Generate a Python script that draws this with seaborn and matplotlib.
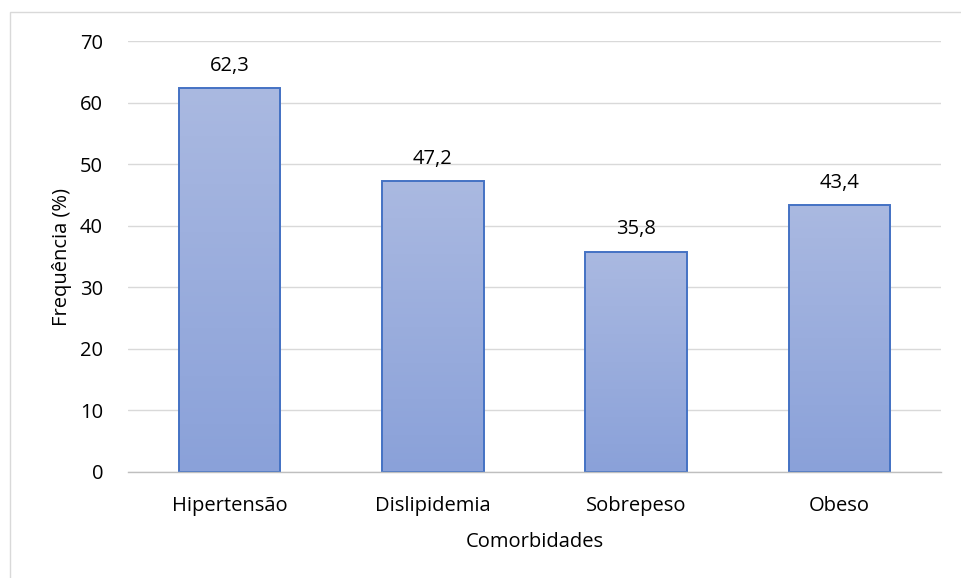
import numpy as np
import pandas as pd
import matplotlib
matplotlib.use("Agg")
import matplotlib.pyplot as plt
import seaborn as sns
from matplotlib.colors import LinearSegmentedColormap
from matplotlib.patches import Rectangle

categorias = ["Hipertensão", "Dislipidemia", "Sobrepeso", "Obeso"]
frequencias = [62.3, 47.2, 35.8, 43.4]
rotulos = ["62,3", "47,2", "35,8", "43,4"]

sns.set_theme(style="white")
plt.rcParams["font.family"] = ["Open Sans", "DejaVu Sans"]

df = pd.DataFrame({"Comorbidades": categorias, "Frequência": frequencias})

fig = plt.figure(figsize=(9.61, 5.78), dpi=100)
ax = fig.add_axes([0.1332, 0.1834, 0.8460, 0.7456])

sns.barplot(data=df, x="Comorbidades", y="Frequência", ax=ax, width=0.5,
            color="#9AADDD", edgecolor="#4472C4", linewidth=1.4, zorder=3)

# vertical gradient fill inside each bar
cmap = LinearSegmentedColormap.from_list("grad", ["#8AA1D9", "#AAB9E1"])
grad = np.linspace(0, 1, 256).reshape(-1, 1)
for patch in ax.patches:
    x0, y0 = patch.get_x(), patch.get_y()
    w, h = patch.get_width(), patch.get_height()
    im = ax.imshow(grad, cmap=cmap, origin="lower", aspect="auto",
                   extent=[x0, x0 + w, y0, y0 + h], zorder=2.5)
    im.set_clip_path(patch)
    patch.set_facecolor("none")

fs = 14.5
ax.set_xlim(-0.5, 3.5)
ax.set_ylim(0, 70)
ax.set_yticks(range(0, 71, 10))
ax.yaxis.grid(True, color="#D9D9D9", linewidth=1.0, zorder=0)
ax.set_axisbelow(True)
for s in ["top", "right", "left"]:
    ax.spines[s].set_visible(False)
ax.spines["bottom"].set_color("#BFBFBF")
ax.spines["bottom"].set_linewidth(1.0)
ax.spines["bottom"].set_zorder(4)
ax.tick_params(axis="both", length=0, labelsize=fs, colors="#000000")
ax.tick_params(axis="x", pad=17)
ax.tick_params(axis="y", pad=18)

for i, (v, t) in enumerate(zip(frequencias, rotulos)):
    ax.text(i, v + 3.6, t, ha="center", va="center", fontsize=fs, color="#000000")

ax.set_xlabel("Comorbidades", fontsize=fs, color="#000000", labelpad=12)
ax.set_ylabel("Frequência (%)", fontsize=fs, color="#000000", labelpad=5.5)

# outer chart border
fig.add_artist(Rectangle((10 / 961, -0.1), 1.2, 1 - 11.5 / 578 + 0.1,
                         transform=fig.transFigure, fill=False,
                         edgecolor="#D9D9D9", linewidth=1.0))

fig.savefig("out.png", dpi=100, facecolor="white")
